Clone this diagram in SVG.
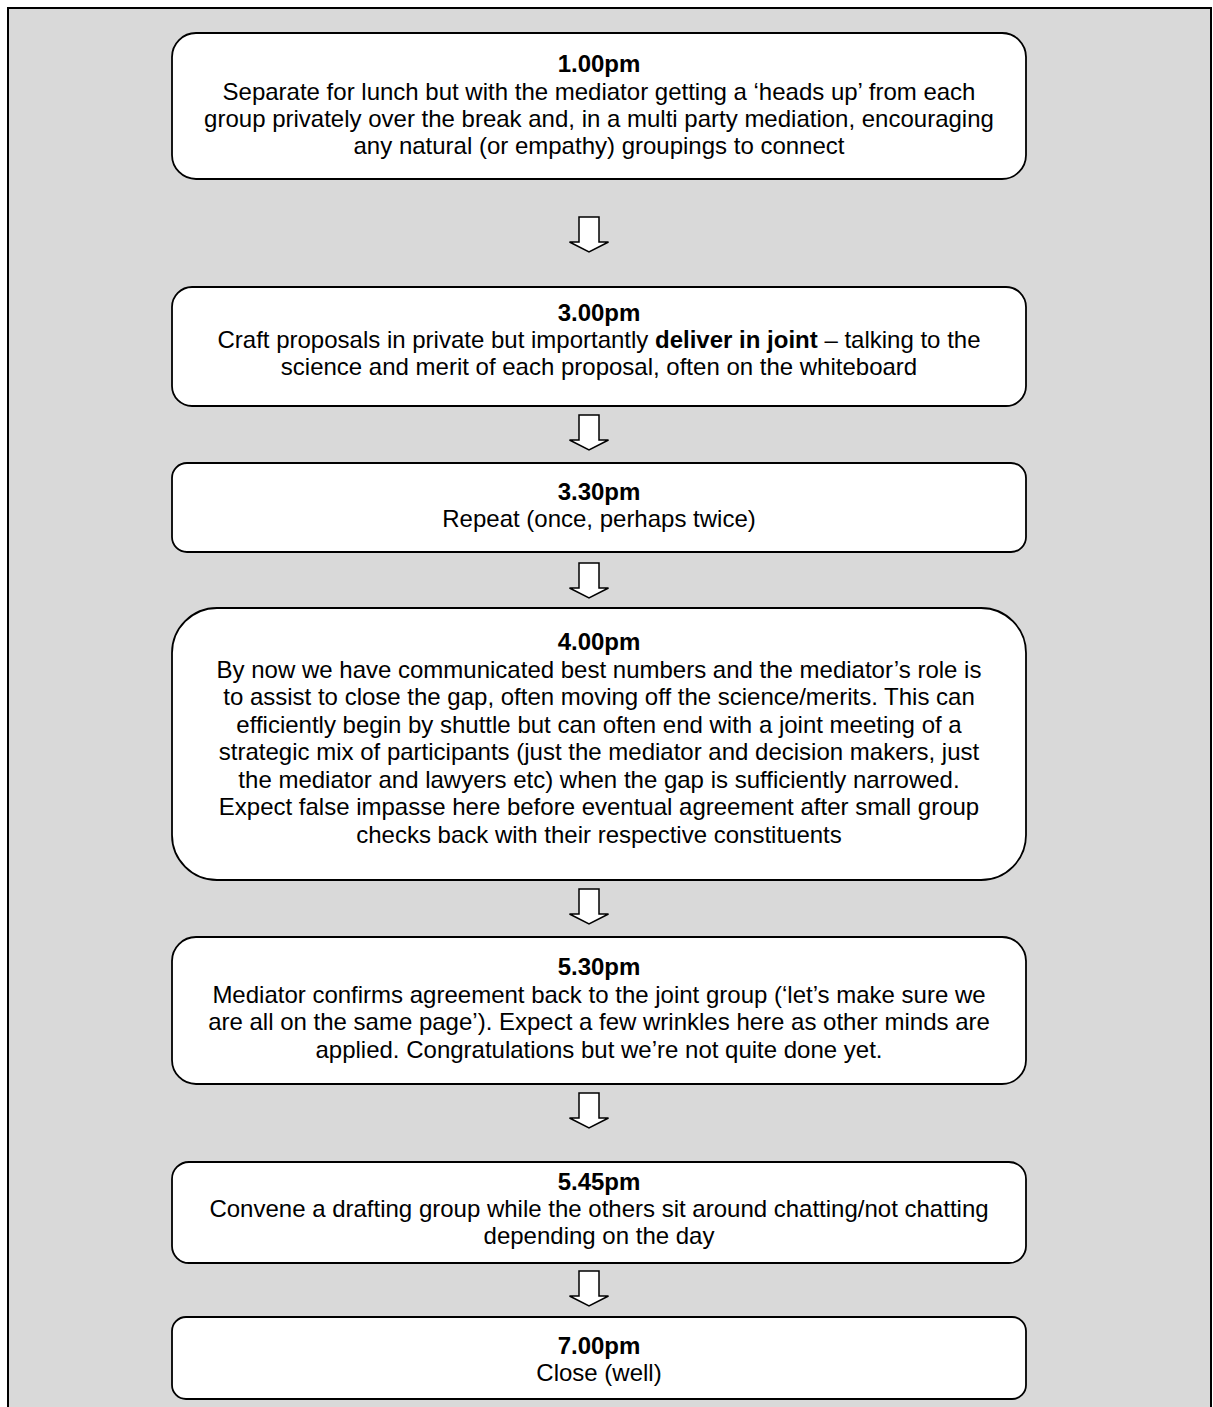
<svg xmlns="http://www.w3.org/2000/svg" width="1213" height="1407" viewBox="0 0 1213 1407">
<style>
.bg{fill:#d9d9d9;stroke:#000;stroke-width:2}
.box{fill:#fff;stroke:#000;stroke-width:1.8}
.arr{fill:#fff;stroke:#000;stroke-width:1.5;stroke-linejoin:miter}
text{font-family:"Liberation Sans",Arial,sans-serif;font-size:24px;fill:#000;text-anchor:middle}
.t{font-weight:bold}
</style>
<defs>
<path id="ar" d="M-10,0 H10 V25 H19.5 L0,35 L-19.5,25 H-10 Z"/>
</defs>
<rect class="bg" x="8" y="8" width="1203" height="1420"/>
<g id="connectors">
<use href="#ar" class="arr" x="589" y="217"/>
<use href="#ar" class="arr" x="589" y="415"/>
<use href="#ar" class="arr" x="589" y="563"/>
<use href="#ar" class="arr" x="589" y="889"/>
<use href="#ar" class="arr" x="589" y="1093"/>
<use href="#ar" class="arr" x="589" y="1271"/>
</g>
<g id="n1">
<rect class="box" x="172" y="33" width="854" height="146" rx="24"/>
<text x="599" y="72" class="t">1.00pm</text>
<text x="599" y="99.5">Separate for lunch but with the mediator getting a ‘heads up’ from each</text>
<text x="599" y="126.5">group privately over the break and, in a multi party mediation, encouraging</text>
<text x="599" y="153.5">any natural (or empathy) groupings to connect</text>
</g>
<g id="n2">
<rect class="box" x="172" y="287" width="854" height="119" rx="20"/>
<text x="599" y="321" class="t">3.00pm</text>
<text x="599" y="348">Craft proposals in private but importantly <tspan class="t">deliver in joint</tspan> – talking to the</text>
<text x="599" y="375">science and merit of each proposal, often on the whiteboard</text>
</g>
<g id="n3">
<rect class="box" x="172" y="463" width="854" height="89" rx="15"/>
<text x="599" y="500" class="t">3.30pm</text>
<text x="599" y="527">Repeat (once, perhaps twice)</text>
</g>
<g id="n4">
<rect class="box" x="172" y="608" width="854" height="272" rx="45"/>
<text x="599" y="650" class="t">4.00pm</text>
<text x="599" y="677.5">By now we have communicated best numbers and the mediator’s role is</text>
<text x="599" y="705">to assist to close the gap, often moving off the science/merits. This can</text>
<text x="599" y="732.5">efficiently begin by shuttle but can often end with a joint meeting of a</text>
<text x="599" y="760">strategic mix of participants (just the mediator and decision makers, just</text>
<text x="599" y="787.5">the mediator and lawyers etc) when the gap is sufficiently narrowed.</text>
<text x="599" y="815">Expect false impasse here before eventual agreement after small group</text>
<text x="599" y="842.5">checks back with their respective constituents</text>
</g>
<g id="n5">
<rect class="box" x="172" y="937" width="854" height="147" rx="24"/>
<text x="599" y="975" class="t">5.30pm</text>
<text x="599" y="1002.5">Mediator confirms agreement back to the joint group (‘let’s make sure we</text>
<text x="599" y="1030">are all on the same page’). Expect a few wrinkles here as other minds are</text>
<text x="599" y="1057.5">applied. Congratulations but we’re not quite done yet.</text>
</g>
<g id="n6">
<rect class="box" x="172" y="1162" width="854" height="101" rx="17"/>
<text x="599" y="1190" class="t">5.45pm</text>
<text x="599" y="1217">Convene a drafting group while the others sit around chatting/not chatting</text>
<text x="599" y="1244">depending on the day</text>
</g>
<g id="n7">
<rect class="box" x="172" y="1317" width="854" height="82" rx="14"/>
<text x="599" y="1354" class="t">7.00pm</text>
<text x="599" y="1381">Close (well)</text>
</g>
</svg>
